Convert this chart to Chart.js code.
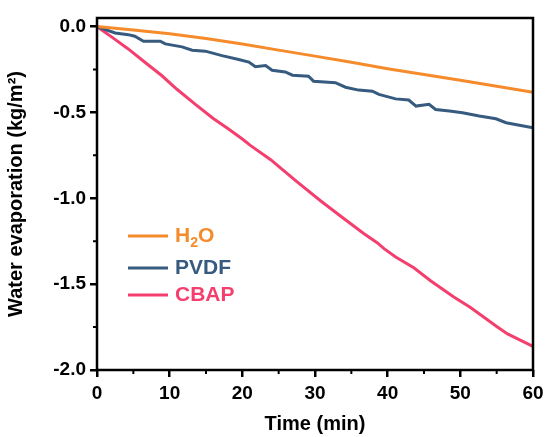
<!DOCTYPE html>
<html>
<head>
<meta charset="utf-8">
<script src="https://cdn.jsdelivr.net/npm/chart.js@4"></script>
<style>
  html, body { margin: 0; padding: 0; background: #fff; }
  #wrap { width: 545px; height: 437px; }
</style>
</head>
<body>
<div id="wrap"><canvas id="evapChart" width="545" height="437"></canvas></div>
<script>
// data
const h2oTime = [0, 5, 10, 15, 20, 25, 30, 35, 40, 45, 50, 55, 60];
const h2oVal = [0, -0.02, -0.042, -0.07, -0.102, -0.137, -0.172, -0.208, -0.245, -0.279, -0.313, -0.347, -0.383];

const pvdfTime = [0, 2.5, 4.3, 5.2, 6.4, 8.7, 9.4, 11.7, 13.1, 14.9, 17.2, 19.5, 20.9, 21.8, 23.2, 24.1, 25.9, 26.9, 29.1, 29.8, 32.8, 34.2, 36.0, 37.9, 38.8, 41.1, 42.9, 43.9, 45.7, 46.6, 48.5, 50.3, 52.6, 54.9, 56.3, 60];
const pvdfVal = [0, -0.037, -0.047, -0.056, -0.085, -0.085, -0.101, -0.118, -0.138, -0.143, -0.169, -0.192, -0.207, -0.234, -0.227, -0.254, -0.264, -0.283, -0.289, -0.318, -0.327, -0.353, -0.370, -0.376, -0.395, -0.421, -0.428, -0.463, -0.453, -0.483, -0.492, -0.502, -0.521, -0.537, -0.560, -0.589];

const cbapTime = [0, 2, 4.3, 6.5, 8.9, 11, 13.5, 16, 18.1, 20, 21.1, 23.9, 25.2, 27.5, 30.8, 33.5, 36.7, 38.6, 39.5, 41.1, 43.6, 45.9, 49.1, 51.4, 55.1, 56.5, 60];
const cbapVal = [0, -0.06, -0.13, -0.205, -0.285, -0.365, -0.452, -0.535, -0.597, -0.655, -0.692, -0.775, -0.822, -0.903, -1.016, -1.103, -1.205, -1.26, -1.293, -1.342, -1.405, -1.48, -1.575, -1.636, -1.75, -1.79, -1.862];

const xTicks = [0, 10, 20, 30, 40, 50, 60];
const yTicks = [0, -0.5, -1.0, -1.5, -2.0];
const xMinor = [5, 15, 25, 35, 45, 55];
const yMinor = [-0.25, -0.75, -1.25, -1.75];

function pts(t, v) {
  return t.map((x, i) => ({ x: x, y: v[i] }));
}

const FONT = "'Liberation Sans', Arial, sans-serif";

// frame, minor ticks and the in-plot legend
const framePlugin = {
  id: "frame",
  afterDatasetsDraw(chart) {
    const ctx = chart.ctx;
    const a = chart.chartArea;
    const xs = chart.scales.x, ys = chart.scales.y;
    ctx.save();
    ctx.strokeStyle = "#000";
    ctx.lineWidth = 2.5;
    ctx.strokeRect(a.left, a.top, a.right - a.left, a.bottom - a.top);
    ctx.lineWidth = 2;
    ctx.beginPath();
    xMinor.forEach(v => {
      const px = xs.getPixelForValue(v);
      ctx.moveTo(px, a.bottom);
      ctx.lineTo(px, a.bottom + 4);
    });
    yMinor.forEach(v => {
      const py = ys.getPixelForValue(v);
      ctx.moveTo(a.left, py);
      ctx.lineTo(a.left - 4, py);
    });
    ctx.stroke();

    // legend
    const rows = [236, 268, 295];
    ctx.textBaseline = "middle";
    ctx.textAlign = "left";
    chart.data.datasets.forEach((ds, i) => {
      const y = rows[i];
      ctx.strokeStyle = ds.borderColor;
      ctx.lineWidth = 3;
      ctx.beginPath();
      ctx.moveTo(128, y);
      ctx.lineTo(168, y);
      ctx.stroke();
      ctx.fillStyle = ds.borderColor;
      ctx.font = "bold 21px " + FONT;
      if (ds.label === "H2O") {
        let x = 175;
        ctx.fillText("H", x, y);
        x += ctx.measureText("H").width;
        ctx.font = "bold 14px " + FONT;
        ctx.fillText("2", x, y + 7);
        x += ctx.measureText("2").width;
        ctx.font = "bold 21px " + FONT;
        ctx.fillText("O", x, y);
      } else {
        ctx.fillText(ds.label, 175, y);
      }
    });
    ctx.restore();
  }
};

const config = {
  type: "scatter",
  data: {
    datasets: [
      { label: "H2O", data: pts(h2oTime, h2oVal), borderColor: "#F58B2B" },
      { label: "PVDF", data: pts(pvdfTime, pvdfVal), borderColor: "#375A7F" },
      { label: "CBAP", data: pts(cbapTime, cbapVal), borderColor: "#F43F6E" },
    ].map(d => Object.assign(d, {
      showLine: true,
      pointRadius: 0,
      borderWidth: 3,
      tension: 0,
      fill: false,
    })),
  },
  options: {
    responsive: false,
    animation: false,
    layout: { padding: { top: 18, right: 12, left: 0, bottom: 0 } },
    plugins: { legend: { display: false }, tooltip: { enabled: false } },
    scales: {
      x: {
        type: "linear",
        min: 0,
        max: 60,
        afterFit: s => { s.height = 67; s.paddingRight = 0; s.paddingLeft = 0; },
        afterBuildTicks: s => { s.ticks = xTicks.map(v => ({ value: v })); },
        border: { display: false },
        grid: { drawOnChartArea: false, drawTicks: true, tickLength: 7, lineWidth: 2.5, color: "#000" },
        ticks: { color: "#000", font: { family: FONT, size: 19, weight: "bold" }, padding: 5, maxRotation: 0 },
        title: { display: true, text: "Time (min)", color: "#000", font: { family: FONT, size: 20, weight: "bold" }, padding: { top: 0, bottom: 1 } },
      },
      y: {
        type: "linear",
        min: -2.0,
        max: 0.05,
        afterFit: s => { s.width = 97; s.paddingTop = 0; s.paddingBottom = 0; },
        afterBuildTicks: s => { s.ticks = yTicks.map(v => ({ value: v })); },
        border: { display: false },
        grid: { drawOnChartArea: false, drawTicks: true, tickLength: 7, lineWidth: 2.5, color: "#000" },
        ticks: { color: "#000", font: { family: FONT, size: 19, weight: "bold" }, padding: 4, callback: v => v.toFixed(1) },
        title: { display: true, text: "Water evaporation (kg/m²)", color: "#000", font: { family: FONT, size: 20, weight: "bold" }, padding: { bottom: 0 } },
      },
    },
  },
  plugins: [framePlugin],
};

const evapChart = new Chart(document.getElementById("evapChart"), config);
</script>
</body>
</html>
